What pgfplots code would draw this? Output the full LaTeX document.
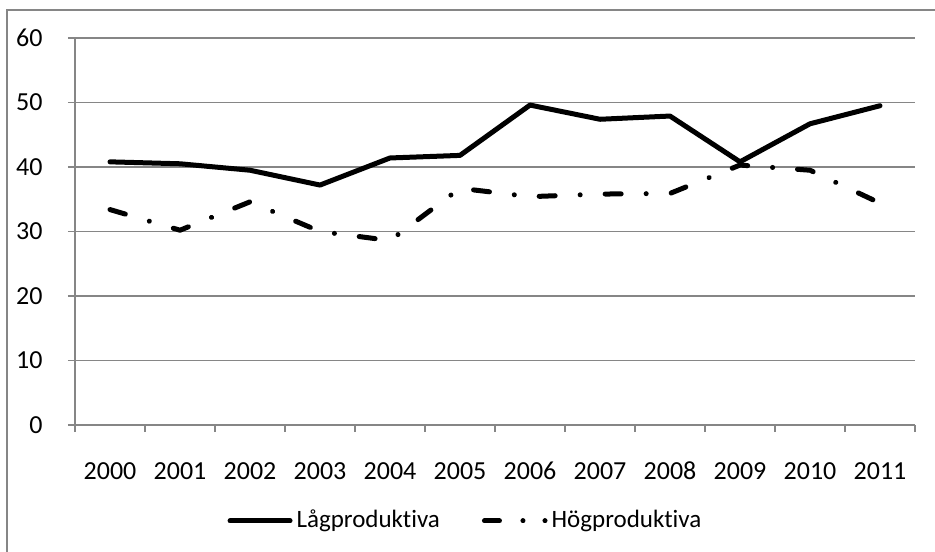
\documentclass[border=0pt]{standalone}
\usepackage{pgfplots}
\pgfplotsset{compat=1.18}
\usepackage{fontspec}
\setmainfont{Carlito}[Ligatures=NoCommon]
\definecolor{axgray}{RGB}{134,134,134}
\newcommand\tlf{\fontsize{13}{15}\selectfont}
\begin{document}
\fontsize{13}{15}\selectfont
\begin{tikzpicture}
\useasboundingbox (-37.5pt,-63pt) rectangle (430pt,212.5pt);
\draw[axgray, line width=0.8pt] (-34pt,-90pt) rectangle (450pt,207.5pt);
\begin{axis}[
  at={(0pt,0pt)}, anchor=south west,
  scale only axis, width=420pt, height=193.5pt,
  xmin=-0.5, xmax=11.5, ymin=0, ymax=60,
  axis x line*=bottom, axis y line*=left,
  axis line style={axgray, line width=0.8pt},
  xtick={0,...,11},
  xticklabels={{\tlf 2000},{\tlf 2001},{\tlf 2002},{\tlf 2003},{\tlf 2004},{\tlf 2005},{\tlf 2006},{\tlf 2007},{\tlf 2008},{\tlf 2009},{\tlf 2010},{\tlf 2011}},
  major x tick style={draw=none},
  minor xtick={-0.5,0.5,...,11.5},
  minor x tick style={axgray, line width=0.8pt},
  minor tick length=3.5pt,
  ytick={0,10,...,60},
  yticklabel={\tlf\pgfmathprintnumber{\tick}},
  major tick length=3.5pt,
  tick align=outside,
  y tick style={axgray, line width=0.8pt},
  ymajorgrids,
  grid style={axgray, line width=0.8pt},
  tick label style={font=\tlf},
  yticklabel style={xshift=-8.2pt},
  xticklabel style={anchor=north, text height=8.5pt, text depth=0pt, yshift=-10.5pt},
  /pgf/number format/assume math mode=true,
  clip=false,
  legend style={at={(0.466,-0.248)}, anchor=center, draw=none, fill=none,
    legend columns=2, font=\fontsize{12.5}{15}\selectfont,
    /tikz/every even column/.append style={column sep=19pt}},
  legend cell align=left,
]
\addplot[black, line width=2.5pt, line join=round, line cap=round,
  legend image code/.code={\draw[black, line width=2.5pt, line cap=round] (1.25pt,0pt) -- (31.25pt,0pt);}] coordinates {
(0,40.8) (1,40.5) (2,39.5) (3,37.2) (4,41.4) (5,41.8) (6,49.6) (7,47.4) (8,47.9) (9,40.8) (10,46.7) (11,49.5)};
\addlegendentry{Lågproduktiva}
\addplot[black, line width=2.5pt, line join=round, line cap=round,
  dash pattern=on 8pt off 12.5pt on 0.01pt off 12.5pt,
  legend image code/.code={\draw[black, line width=2.5pt, line cap=round, dash pattern=on 7.5pt off 11.75pt on 0.01pt off 11pt on 0.01pt off 20pt] (1.25pt,0pt) -- (31.6pt,0pt);}] coordinates {
(0,33.4) (1,30.2) (2,34.6) (3,30.0) (4,28.6) (5,36.7) (6,35.4) (7,35.8) (8,35.9) (9,40.3) (10,39.5) (11,34.4)};
\addlegendentry{Högproduktiva}
\end{axis}
\end{tikzpicture}
\end{document}
